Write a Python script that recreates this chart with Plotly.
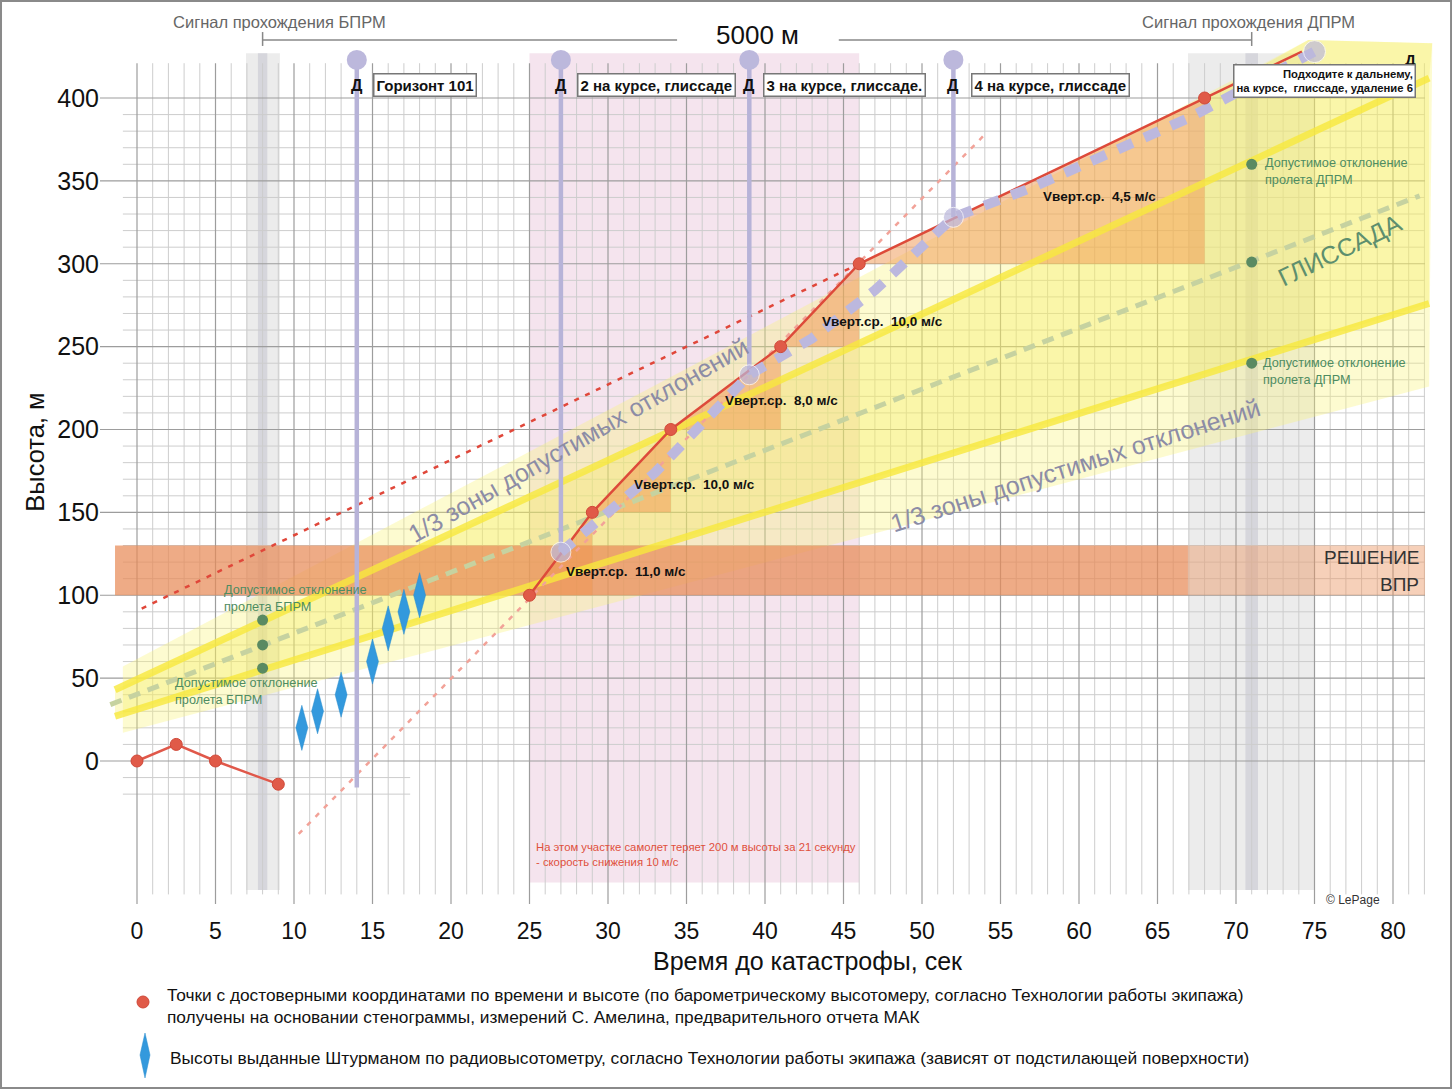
import plotly.graph_objects as go

# ---------------- data ----------------
# barometric altitude points, time to crash (s) / altitude (m)
early_t = [0, 2.5, 5, 9]
early_h = [0, 10, 0, -14]
main_t = [25, 29, 34, 41, 46, 68]
main_h = [100, 150, 200, 250, 300, 400]
main_end_t = 74.2
main_end_h = 428

# navigator radio-altimeter calls
radio_t = [10.5, 11.5, 13, 15, 16, 17, 18]
radio_h = [20, 30, 40, 60, 80, 90, 100]

# dispatcher ("Д") commands and aircraft path
cmd_t = [14, 27, 39, 52]
cmd_bottom_h = [-16, 126, 233, 328]
cmd_top_h = 423
cmd_text = ["Горизонт 101", "2 на курсе, глиссаде", "3 на курсе, глиссаде.", "4 на курсе, глиссаде"]
cmd_box_t = [15.0, 28.0, 39.9, 53.1]
path_t = [27, 33, 39, 43, 47, 52, 57, 61, 67, 75]
path_h = [126, 174, 233, 255, 284, 328, 346, 363, 388, 428]
path_circle_t = [27, 39, 52, 75]
path_circle_h = [126, 233, 328, 428]

# beacon passages and tolerances
bprm_t = 8
bprm_h = [56, 70, 85]
dprm_t = 71
dprm_h = [240, 301, 360]

# glide slope and tolerance funnel
glide_t = [-1.7, 81.7]
glide_h = [34, 341]
tol_up_t = [-1.4, 82.3]
tol_up_h = [43, 412]
tol_lo_t = [-1.4, 82.3]
tol_lo_h = [27, 276]
zone_t = [-0.9, 74.6, 82.5, 82.3, -0.9]
zone_h = [57, 435, 433, 226, 17]
zone_top_t = [68, 74.6, 82.5, 82.3, 68]
zone_top_h = [400, 435, 433, 412, 349]

# reference trend lines
trend_t = [0.3, 46]
trend_h = [92, 300]
drop_t = [10.3, 54]
drop_h = [-44, 378]

# vertical-speed labels
vs_text = ["Vверт.ср.  11,0 м/с", "Vверт.ср.  10,0 м/с", "Vверт.ср.  8,0 м/с",
           "Vверт.ср.  10,0 м/с", "Vверт.ср.  4,5 м/с"]
vs_t = [27.2, 31.5, 37.3, 43.5, 57.6]
vs_h = [114.6, 167, 217.8, 264.9, 340.3]

decision_h = [100, 130]
x_ticks = list(range(0, 81, 5))
y_ticks = list(range(0, 401, 50))

# ---------------- styling ----------------
SANS = "Liberation Sans, Arial, sans-serif"
X_RANGE = [-2.357, 83.312]
Y_RANGE = [-86.28, 459.13]
Y_DOMAIN_BOTTOM = 0.169881
LAV = "#b7b3d8"

fig = go.Figure()


def add_line(xs, ys, color, width, dash=None, xaxis="x", yaxis="y"):
    fig.add_trace(go.Scatter(x=xs, y=ys, mode="lines", hoverinfo="skip", showlegend=False,
                             line=dict(color=color, width=width, dash=dash),
                             xaxis=xaxis, yaxis=yaxis))


def add_poly(xs, ys, fillcolor):
    fig.add_trace(go.Scatter(x=xs, y=ys, mode="lines", fill="toself", fillcolor=fillcolor,
                             line=dict(width=0, color="rgba(0,0,0,0)"), hoverinfo="skip",
                             showlegend=False))


# ---- grid ----
minor_x, minor_y, major_x, major_y = [], [], [], []
for t in range(0, 83):
    if t % 5 == 0:
        major_x += [t, t, None]
        major_y += [Y_RANGE[0], 421, None]
    else:
        minor_x += [t, t, None]
        minor_y += [-80.5, 421, None]
for h in range(-20, 401, 10):
    if h < 0:
        minor_x += [-0.9, 17.4, None]
        minor_y += [h, h, None]
    elif h % 50 == 0:
        major_x += [-2.36, 82.04, None]
        major_y += [h, h, None]
    else:
        minor_x += [-0.9, 82.04, None]
        minor_y += [h, h, None]
add_line(minor_x, minor_y, "#cdcdcd", 1)
add_line(major_x, major_y, "#9d9d9d", 1.2)

# ---- yellow zones ----
add_poly(zone_t, zone_h, "rgba(250,244,120,0.35)")
add_poly([tol_up_t[0], tol_up_t[1], tol_lo_t[1], tol_lo_t[0]],
         [tol_up_h[0], tol_up_h[1], tol_lo_h[1], tol_lo_h[0]], "rgba(244,234,80,0.30)")
add_poly(zone_top_t, zone_top_h, "rgba(244,234,80,0.30)")

# ---- decision height band ----
add_poly([-1.4, 66.94, 66.94, -1.4], [decision_h[0], decision_h[0], decision_h[1], decision_h[1]],
         "rgba(232,138,88,0.72)")
add_poly([66.94, 82.04, 82.04, 66.94], [decision_h[0], decision_h[0], decision_h[1], decision_h[1]],
         "rgba(236,150,100,0.45)")

# ---- descent triangles under the barometric line ----
for i in range(len(main_t) - 1):
    add_poly([main_t[i], main_t[i + 1], main_t[i + 1]],
             [main_h[i], main_h[i + 1], main_h[i]], "rgba(240,150,80,0.5)")

# ---- tolerance boundaries and glide slope ----
add_line(tol_up_t, tol_up_h, "rgba(248,232,60,0.8)", 7)
add_line(tol_lo_t, tol_lo_h, "rgba(248,232,60,0.8)", 7)
add_line(glide_t, glide_h, "#c6d2a0", 5, dash="12px,8px")

# ---- trend lines ----
add_line(drop_t, drop_h, "#f2a298", 2.5, dash="5px,7px")
add_line(trend_t, trend_h, "#e0473a", 2.5, dash="5px,7px")

# ---- command verticals ----
vx, vy = [], []
for t, hb in zip(cmd_t, cmd_bottom_h):
    vx += [t, t, None]
    vy += [cmd_top_h, hb, None]
add_line(vx, vy, LAV, 4.5)

# ---- barometric lines ----
add_line(early_t, early_h, "#e0584a", 2.5)
add_line(main_t + [main_end_t], main_h + [main_end_h], "#dd4a3a", 2.5)

# ---- aircraft path (dashed lavender) ----
add_line(path_t, path_h, "#bcb8de", 10, dash="16px,13px")
fig.add_trace(go.Scatter(x=cmd_t, y=[cmd_top_h] * len(cmd_t), mode="markers", hoverinfo="skip",
                         showlegend=False, marker=dict(size=20, color="#bcb8dc")))
fig.add_trace(go.Scatter(x=path_circle_t, y=path_circle_h, mode="markers", hoverinfo="skip",
                         showlegend=False, marker=dict(size=[20, 20, 20, 22], color="#bcb8dc")))

# ---- barometric points ----
fig.add_trace(go.Scatter(x=early_t + main_t, y=early_h + main_h, mode="markers", hoverinfo="skip",
                         showlegend=False,
                         marker=dict(size=12, color="#e05a48", line=dict(color="#d04838", width=1))))

# ---- radio altimeter diamonds ----
dx, dy = [], []
for t, h in zip(radio_t, radio_h):
    dx += [t, t + 0.38, t, t - 0.38, t, None]
    dy += [h + 13.6, h, h - 13.6, h, h + 13.6, None]
fig.add_trace(go.Scatter(x=dx, y=dy, mode="lines", fill="toself", fillcolor="#3399dd",
                         line=dict(width=0.5, color="#2a8ccc"), hoverinfo="skip", showlegend=False))

# ---- beacon tolerance dots ----
fig.add_trace(go.Scatter(x=[bprm_t] * 3 + [dprm_t] * 3, y=bprm_h + dprm_h, mode="markers",
                         hoverinfo="skip", showlegend=False,
                         marker=dict(size=11, color="#5a8a62")))

# ---- legend keys (second, pixel-like axes) ----
fig.add_trace(go.Scatter(x=[143], y=[1002], mode="markers", xaxis="x2", yaxis="y2",
                         hoverinfo="skip", showlegend=False,
                         marker=dict(size=12, color="#e05a48", line=dict(color="#d04838", width=1))))
fig.add_trace(go.Scatter(x=[145, 150, 145, 140, 145], y=[1033, 1055, 1078, 1055, 1033], mode="lines",
                         fill="toself", fillcolor="#3399dd", line=dict(width=0.5, color="#2a8ccc"),
                         xaxis="x2", yaxis="y2", hoverinfo="skip", showlegend=False))

# ---------------- annotations ----------------
ann = []


def A(text, x, y, size, color="#111", family=SANS, xanchor="center", yanchor="middle", angle=0,
      align="center", xref="x", yref="y", **kw):
    ann.append(dict(text=text, x=x, y=y, xref=xref, yref=yref, showarrow=False,
                    font=dict(size=size, color=color, family=family), xanchor=xanchor,
                    yanchor=yanchor, textangle=angle, align=align, **kw))


A("Сигнал прохождения БПРМ", 9.1, 445.9, 16.5, "#666")
A("Сигнал прохождения ДПРМ", 70.8, 445.9, 16.5, "#666")
A("5000 м", 39.55, 438, 26, "#111")

for t, bt, txt in zip(cmd_t, cmd_box_t, cmd_text):
    A("<b>Д</b>", t, 407.8, 16, "#111")
    A(f"<b>{txt}</b>", bt, 407.8, 15, "#111", xanchor="left", bgcolor="white",
      bordercolor="#777", borderwidth=1.5, borderpad=2)
A("<b>Д</b>", 81.1, 423, 15, "#111")
A("<b>Подходите к дальнему,<br>на курсе,  глиссаде, удаление 6</b>", 81.45, 410.3, 11.3, "#111",
  xanchor="right", align="right", bgcolor="white", bordercolor="#777", borderwidth=1.5,
  borderpad=2)

for s, t, h in zip(vs_text, vs_t, vs_h):
    A(f"<b>{s}</b>", t, h, 13.5, "#111", xanchor="left")

GREEN = "#4e8c62"
A("Допустимое отклонение<br>пролета БПРМ", 5.4, 98.3, 12.7, GREEN, xanchor="left", align="left")
A("Допустимое отклонение<br>пролета БПРМ", 2.3, 42.2, 12.7, GREEN, xanchor="left", align="left")
A("Допустимое отклонение<br>пролета ДПРМ", 71.7, 355.7, 12.7, GREEN, xanchor="left", align="left")
A("Допустимое отклонение<br>пролета ДПРМ", 71.6, 235, 12.7, GREEN, xanchor="left", align="left")
A("ГЛИССАДА", 76.6, 308.3, 25, "#5e8f6e", angle=-25.6)
A("1/3 зоны допустимых отклонений", 28.1, 193.7, 25, "#8c8ca6", angle=-29.7)
A("1/3 зоны допустимых отклонений", 59.8, 178.6, 25, "#8c8ca6", angle=-17.7)
A("РЕШЕНИЕ", 81.8, 123, 19, "#333", xanchor="right")
A("ВПР", 81.8, 106.2, 19, "#333", xanchor="right")
A("На этом участке самолет теряет 200 м высоты за 21 секунду<br>- скорость снижения 10 м/с",
  25.3, -56.4, 11.3, "#e0503c", xanchor="left", align="left")
A("© LePage", 77.45, -83.9, 12, "#333")
A("Время до катастрофы, сек", 42.74, 961, 25, "#111", xref="x", yref="y2")

A("Точки с достоверными координатами по времени и высоте (по барометрическому высотомеру, согласно Технологии работы экипажа)<br>"
  "получены на основании стенограммы, измерений С. Амелина, предварительного отчета МАК",
  165, 1005.5, 17.3, "#111", xanchor="left", align="left", xref="x2", yref="y2")
A("Высоты выданные Штурманом по радиовысотометру, согласно Технологии работы экипажа (зависят от подстилающей поверхности)",
  168, 1058, 17.4, "#111", xanchor="left", align="left", xref="x2", yref="y2")

# ---------------- shapes (background bands, brackets, frame) ----------------
shapes = []


def rect(x0, x1, y0, y1, color):
    shapes.append(dict(type="rect", xref="x", yref="y", x0=x0, x1=x1, y0=y0, y1=y1,
                       fillcolor=color, line=dict(width=0), layer="below"))


rect(25, 46, -73.3, 427, "#f5e4ee")
rect(6.94, 9.1, -77.8, 427, "#ececec")
rect(7.7, 8.3, -77.8, 427, "#d6d6dc")
rect(66.94, 74.97, -77.8, 427, "#ececec")
rect(70.6, 71.4, -77.8, 427, "#d6d6dc")

for x0, x1 in [(8, 34.4), (44.7, 71)]:
    shapes.append(dict(type="line", xref="x", yref="y", x0=x0, x1=x1, y0=435, y1=435,
                       line=dict(color="#888", width=1.5)))
for x in [8, 71]:
    shapes.append(dict(type="line", xref="x", yref="y", x0=x, x1=x, y0=431.4, y1=439.8,
                       line=dict(color="#888", width=1.5)))
shapes.append(dict(type="rect", xref="paper", yref="paper", x0=-0.0736, x1=1.0045,
                   y0=0.0009, y1=0.9991, line=dict(color="#8a8a8a", width=2)))

fig.update_layout(
    width=1452, height=1089,
    margin=dict(l=100, r=7, t=0, b=0),
    paper_bgcolor="white", plot_bgcolor="white",
    showlegend=False,
    annotations=ann, shapes=shapes,
    xaxis=dict(domain=[0, 1], range=X_RANGE, anchor="y", showgrid=False, zeroline=False,
               showline=False, tickvals=x_ticks, ticks="outside", ticklen=6,
               tickcolor="rgba(0,0,0,0)",
               tickfont=dict(family=SANS, size=23, color="#111")),
    yaxis=dict(domain=[Y_DOMAIN_BOTTOM, 1], range=Y_RANGE, showgrid=False, zeroline=False,
               showline=False, tickvals=y_ticks, ticks="",
               tickfont=dict(family=SANS, size=25, color="#111"),
               title=dict(text="Высота, м", font=dict(family=SANS, size=25.5, color="#111"),
                          standoff=5)),
    xaxis2=dict(domain=[0, 1], range=[100, 1445], anchor="y2", visible=False),
    yaxis2=dict(domain=[0, 0.15], range=[1089, 925.65], anchor="x2", visible=False),
)

fig.write_html("out.html", config={"displayModeBar": False},
               post_script="document.body.style.margin='0';document.body.style.overflow='hidden';")
